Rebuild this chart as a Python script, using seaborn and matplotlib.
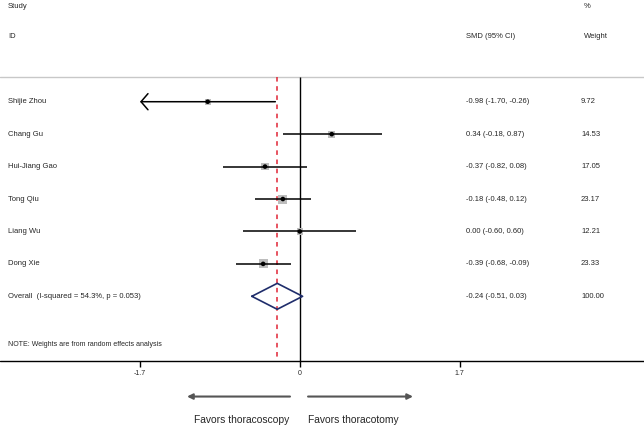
import numpy as np
import pandas as pd
import matplotlib
matplotlib.use("Agg")
import matplotlib.pyplot as plt
import seaborn as sns

# study data
studies = ["Shijie Zhou", "Chang Gu", "Hui-Jiang Gao", "Tong Qiu", "Liang Wu", "Dong Xie"]
smd = [-0.98, 0.34, -0.37, -0.18, 0.00, -0.39]
ci_lo = [-1.70, -0.18, -0.82, -0.48, -0.60, -0.68]
ci_hi = [-0.26, 0.87, 0.08, 0.12, 0.60, -0.09]
weights = [9.72, 14.53, 17.05, 23.17, 12.21, 23.33]

overall = -0.24
overall_lo = -0.51
overall_hi = 0.03
overall_label = "Overall  (I-squared = 54.3%, p = 0.053)"

tick_vals = [-1.7, 0, 1.7]
tick_labels = ["-1.7", "0", "1.7"]

sns.set_theme(style="white")
plt.rcParams['font.family'] = ['Liberation Sans', 'DejaVu Sans']

df = pd.DataFrame({"study": studies, "smd": smd, "lo": ci_lo, "hi": ci_hi,
                   "weight": weights})
df["row"] = np.arange(len(df))
n = len(df)
overall_row = n

fig = plt.figure(figsize=(6.44, 4.28), dpi=100)
ax = fig.add_axes([0, 0, 1, 1])
ax.set_xlim(-3.190, 3.663)
ax.set_ylim(10.06, -3.136)
ax.axis("off")
tr = ax.get_yaxis_transform()

# header
fs = 5.5
ax.text(8 / 644, -2.93, "Study", transform=tr, fontsize=fs, va="center")
ax.text(8 / 644, -2.0, "ID", transform=tr, fontsize=fs, va="center")
ax.text(466 / 644, -2.0, "SMD (95% CI)", transform=tr, fontsize=fs, va="center")
ax.text(584 / 644, -2.93, "%", transform=tr, fontsize=fs, va="center")
ax.text(584 / 644, -2.0, "Weight", transform=tr, fontsize=fs, va="center")
ax.axhline(-0.76, color="#c8c8c8", lw=1.0)

# reference lines
ax.vlines(0, -0.76, 8.0, color="black", lw=1.0)
ax.vlines(overall, -0.76, 8.0, color="#e02535", lw=1.1, linestyles=(0, (3, 3)))

# squares sized by weight
sns.scatterplot(data=df, x="smd", y="row", size="weight", marker="s",
                sizes=(min(weights) * 1.8, max(weights) * 1.8), color="#bdbdbd",
                edgecolor="none", legend=False, ax=ax, zorder=2)

# confidence intervals
for _, r in df.iterrows():
    lo = max(r["lo"], tick_vals[0])
    if r["lo"] <= tick_vals[0]:
        ax.annotate("", xy=(lo, r["row"]), xytext=(r["hi"], r["row"]),
                    arrowprops=dict(arrowstyle="->, head_length=0.5, head_width=0.58",
                                    color="black", lw=1.1, mutation_scale=10,
                                    shrinkA=0, shrinkB=0),
                    zorder=3)
    else:
        ax.hlines(r["row"], lo, r["hi"], color="black", lw=1.1, zorder=3)
    ax.text(8 / 644, r["row"], r["study"], transform=tr, fontsize=fs, va="center")
    ax.text(466 / 644, r["row"], f"{r['smd']:.2f} ({r['lo']:.2f}, {r['hi']:.2f})",
            transform=tr, fontsize=fs, va="center")
    ax.text(581 / 644, r["row"], f"{r['weight']:.2f}", transform=tr,
            fontsize=fs, va="center")

sns.scatterplot(data=df, x="smd", y="row", marker="o", s=11, color="black",
                edgecolor="none", legend=False, ax=ax, zorder=4)

# overall diamond
dh = 0.4
ax.plot([overall_lo, overall, overall_hi, overall, overall_lo],
        [overall_row, overall_row - dh, overall_row, overall_row + dh, overall_row],
        color="#1f2d6b", lw=1.2, zorder=4)
ax.text(8 / 644, overall_row, overall_label, transform=tr, fontsize=fs, va="center")
ax.text(466 / 644, overall_row, f"{overall:.2f} ({overall_lo:.2f}, {overall_hi:.2f})",
        transform=tr, fontsize=fs, va="center")
ax.text(581 / 644, overall_row, "100.00", transform=tr, fontsize=fs, va="center")

ax.text(8 / 644, 7.49, "NOTE: Weights are from random effects analysis",
        transform=tr, fontsize=5.0, va="center")

# x axis
ax.axhline(8.0, color="black", lw=1.0)
for v, lab in zip(tick_vals, tick_labels):
    ax.vlines(v, 8.0, 8.18, color="black", lw=1.0)
    ax.text(v, 8.37, lab, fontsize=5.0, ha="center", va="center")

# favors arrows
ax.annotate("", xy=(-1.20, 9.09), xytext=(-0.104, 9.09),
            arrowprops=dict(arrowstyle="-|>", color="#555555", lw=1.5,
                            mutation_scale=8, shrinkA=0, shrinkB=0))
ax.annotate("", xy=(1.205, 9.09), xytext=(0.088, 9.09),
            arrowprops=dict(arrowstyle="-|>", color="#555555", lw=1.5,
                            mutation_scale=8, shrinkA=0, shrinkB=0))
ax.text(-0.114, 9.82, "Favors thoracoscopy", fontsize=7.4, ha="right", va="center")
ax.text(0.088, 9.82, "Favors thoracotomy", fontsize=7.4, ha="left", va="center")

fig.savefig("out.png", dpi=100)
